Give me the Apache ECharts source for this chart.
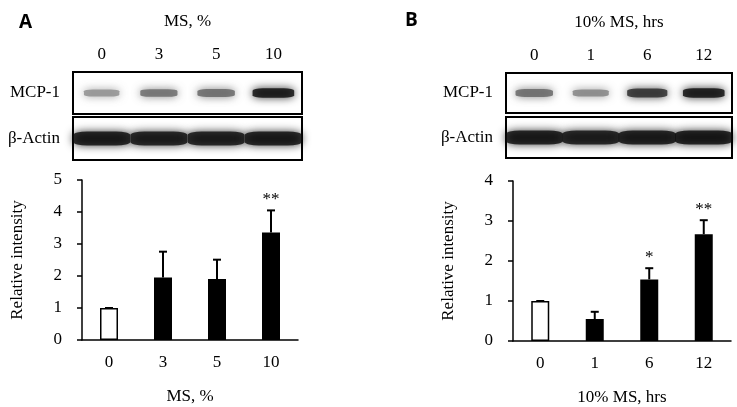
<!DOCTYPE html>
<html>
<head>
<meta charset="utf-8">
<script src="https://cdn.jsdelivr.net/npm/echarts@6/dist/echarts.min.js"></script>
<style>
  html, body { margin: 0; padding: 0; background: #fff; }
  #chart { width: 737px; height: 407px; }
</style>
</head>
<body>
<div id="chart"></div>
<script>
// lanes / categories
const lanesA = ['0', '3', '5', '10'];
const lanesB = ['0', '1', '6', '12'];
const rowMcp = ['MCP-1'];
const rowActin = ['β-Actin'];

// relative intensity (mean, upper SD) and significance marks
const meanA = [1.0, 1.95, 1.91, 3.36];
const errA = [0, 0.81, 0.60, 0.69];
const starA = ['', '', '', '**'];
const meanB = [1.0, 0.55, 1.54, 2.67];
const errB = [0, 0.18, 0.28, 0.35];
const starB = ['', '', '*', '**'];

// blot band darkness (0 = blank, 1 = black)
const mcpBandA = [0.45, 0.6, 0.62, 0.97];
const actinBandA = [0.96, 0.95, 0.95, 0.96];
const mcpBandB = [0.62, 0.5, 0.85, 0.97];
const actinBandB = [0.96, 0.95, 0.96, 0.97];

const SERIF = '"Liberation Serif", "Times New Roman", serif';

function grey(v) {
  const c = Math.round(255 * (1 - v));
  return 'rgb(' + c + ',' + c + ',' + c + ')';
}

// band -> scatter point, size follows darkness
function bands(levels, baseW, baseH) {
  return levels.map((v, i) => ({
    value: [i, 0],
    symbolSize: [baseW * (0.75 + 0.3 * v), baseH * (0.6 + 0.6 * v)],
    itemStyle: { color: grey(v), shadowColor: grey(v), shadowBlur: 9 }
  }));
}

function errRender(stars) {
  return function (params, api) {
    const base = api.coord([api.value(0), api.value(1)]);
    const top = api.coord([api.value(0), api.value(1) + api.value(2)]);
    const kids = [
      { type: 'line', shape: { x1: base[0], y1: base[1], x2: top[0], y2: top[1] },
        style: { stroke: '#000', lineWidth: 2 } },
      { type: 'line', shape: { x1: top[0] - 4, y1: top[1], x2: top[0] + 4, y2: top[1] },
        style: { stroke: '#000', lineWidth: 2 } }
    ];
    const s = stars[params.dataIndex];
    if (s) {
      kids.push({ type: 'text', x: top[0], y: top[1] - 2,
        style: { text: s, fill: '#000', font: '17px ' + SERIF, align: 'center', verticalAlign: 'bottom' } });
    }
    return { type: 'group', children: kids };
  };
}

function barData(means) {
  return means.map((v, i) => i === 0
    ? { value: v, itemStyle: { color: '#fff', borderColor: '#000', borderWidth: 1.5 } }
    : { value: v, itemStyle: { color: '#000' } });
}

const labelStyle = { fontFamily: SERIF, fontSize: 17, color: '#000' };

function blotX(idx, lanes, title, showTop) {
  return {
    gridIndex: idx, type: 'category', data: lanes, position: 'top',
    show: showTop,
    axisLine: { show: false }, axisTick: { show: false },
    axisLabel: Object.assign({ margin: 9 }, labelStyle),
    name: title, nameLocation: 'middle', nameGap: 42,
    nameTextStyle: labelStyle
  };
}
function blotY(idx, row) {
  return {
    gridIndex: idx, type: 'category', data: row,
    axisLine: { show: false }, axisTick: { show: false },
    axisLabel: Object.assign({ margin: 13 }, labelStyle)
  };
}
function barX(idx, lanes, title) {
  return {
    gridIndex: idx, type: 'category', data: lanes,
    axisLine: { lineStyle: { color: '#000', width: 1.5 } },
    axisTick: { show: false },
    axisLabel: Object.assign({ margin: 14 }, labelStyle),
    name: title, nameLocation: 'middle', nameGap: 48,
    nameTextStyle: labelStyle
  };
}
function barY(idx, max) {
  return {
    gridIndex: idx, type: 'value', min: 0, max: max, interval: 1,
    axisLine: { show: true, lineStyle: { color: '#000', width: 1.5 } },
    axisTick: { show: true, length: 5, lineStyle: { color: '#000', width: 1.5 } },
    splitLine: { show: false },
    axisLabel: Object.assign({ margin: 20 }, labelStyle),
    name: 'Relative intensity', nameLocation: 'middle', nameGap: 56,
    nameTextStyle: labelStyle
  };
}

const blotGrid = { show: true, borderColor: '#000', borderWidth: 2, backgroundColor: '#fff' };

const chart = echarts.init(document.getElementById('chart'), null, { renderer: 'canvas' });
chart.setOption({
  backgroundColor: '#fff',
  animation: false,
  graphic: [
    { type: 'text', left: 19, top: 13, style: { text: 'A', font: 'bold 19px "Open Sans", "Liberation Sans", sans-serif', fill: '#000' } },
    { type: 'text', left: 405, top: 11, style: { text: 'B', font: 'bold 19px "Open Sans", "Liberation Sans", sans-serif', fill: '#000' } }
  ],
  grid: [
    Object.assign({ left: 73, top: 72, width: 229, height: 42 }, blotGrid),
    Object.assign({ left: 73, top: 117, width: 229, height: 43 }, blotGrid),
    Object.assign({ left: 506, top: 73, width: 226, height: 40 }, blotGrid),
    Object.assign({ left: 506, top: 117, width: 226, height: 41 }, blotGrid),
    { left: 82, top: 180, width: 216, height: 160 },
    { left: 513, top: 181, width: 218, height: 160 }
  ],
  xAxis: [
    blotX(0, lanesA, 'MS, %', true),
    blotX(1, lanesA, '', false),
    blotX(2, lanesB, '10% MS, hrs', true),
    blotX(3, lanesB, '', false),
    barX(4, lanesA, 'MS, %'),
    barX(5, lanesB, '10% MS, hrs')
  ],
  yAxis: [
    blotY(0, rowMcp), blotY(1, rowActin), blotY(2, rowMcp), blotY(3, rowActin),
    barY(4, 5), barY(5, 4)
  ],
  series: [
    { type: 'scatter', xAxisIndex: 0, yAxisIndex: 0, symbol: 'roundRect', data: bands(mcpBandA, 40, 8) },
    { type: 'scatter', xAxisIndex: 1, yAxisIndex: 1, symbol: 'roundRect', data: bands(actinBandA, 55, 12) },
    { type: 'scatter', xAxisIndex: 2, yAxisIndex: 2, symbol: 'roundRect', data: bands(mcpBandB, 40, 8) },
    { type: 'scatter', xAxisIndex: 3, yAxisIndex: 3, symbol: 'roundRect', data: bands(actinBandB, 55, 12) },
    { type: 'bar', xAxisIndex: 4, yAxisIndex: 4, barWidth: 18, data: barData(meanA) },
    { type: 'custom', xAxisIndex: 4, yAxisIndex: 4, renderItem: errRender(starA), z: 5,
      data: meanA.map((v, i) => [i, v, errA[i]]) },
    { type: 'bar', xAxisIndex: 5, yAxisIndex: 5, barWidth: 18, data: barData(meanB) },
    { type: 'custom', xAxisIndex: 5, yAxisIndex: 5, renderItem: errRender(starB), z: 5,
      data: meanB.map((v, i) => [i, v, errB[i]]) }
  ]
});
</script>
</body>
</html>
